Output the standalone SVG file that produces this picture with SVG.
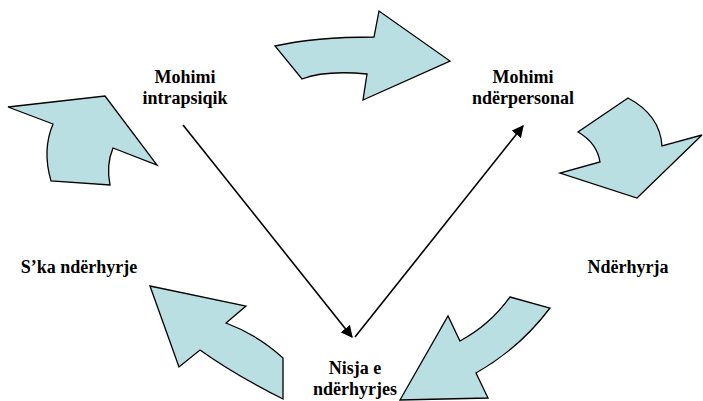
<svg xmlns="http://www.w3.org/2000/svg" width="703" height="401" viewBox="0 0 703 401">
<style>
.ar{fill:#b9dfe3;stroke:#000;stroke-width:1.3;stroke-linejoin:miter}
.t{font-family:'Liberation Serif','Times New Roman',serif;font-weight:bold;font-size:18px;fill:#000;text-anchor:middle}
.ln{stroke:#000;stroke-width:1.6;fill:none}
</style>
<defs>
<marker id="ah2" viewBox="0 0 10 10" refX="9" refY="5" markerWidth="12" markerHeight="12" markerUnits="userSpaceOnUse" orient="auto">
<path d="M0,0 L10,5 L0,10 z" fill="#000"/>
</marker>
</defs>
<rect width="703" height="401" fill="#fff"/>
<g id="arrows">
<path id="arrow-top" class="ar" d="M275,46 Q315,37 374,37 L379,11 L450,61 L363,100 L367,74 Q325,70 302,79 Z"/>
<path id="arrow-right" class="ar" d="M628,98 L578,132 Q597,143 600,162 L560,173 L637,198 L702,135 L662,146 Q660,115 628,98 Z"/>
<path id="arrow-bottom-right" class="ar" d="M510,297 L550,308 Q520,348 476,373 L488,398 L400,400 L448,316 L460,341 Q490,325 510,297 Z"/>
<path id="arrow-bottom-left" class="ar" d="M150,286 L246,306 L226,323 Q258,335 283,358 L283,399 Q235,375 200,350 L179,367 Z"/>
<path id="arrow-left" class="ar" d="M8,107 L105,96 L157,165 L113,148 Q106,165 110,185 L51,181 Q42,150 53,124 Z"/>
</g>
<g id="connectors">
<line class="ln" x1="183" y1="125" x2="352" y2="337" marker-end="url(#ah2)"/>
<line class="ln" x1="355" y1="337" x2="523" y2="126" marker-end="url(#ah2)"/>
</g>
<g id="node-intrapsiqik">
<text class="t" x="185" y="83">Mohimi</text>
<text class="t" x="185" y="104">intrapsiqik</text>
</g>
<g id="node-nderpersonal">
<text class="t" x="523" y="83">Mohimi</text>
<text class="t" x="523" y="104">ndërpersonal</text>
</g>
<g id="node-nderhyrja">
<text class="t" x="628" y="273">Ndërhyrja</text>
</g>
<g id="node-nisja">
<text class="t" x="355" y="374">Nisja e</text>
<text class="t" x="355" y="395">ndërhyrjes</text>
</g>
<g id="node-ska">
<text class="t" x="79" y="273">S’ka ndërhyrje</text>
</g>
</svg>
